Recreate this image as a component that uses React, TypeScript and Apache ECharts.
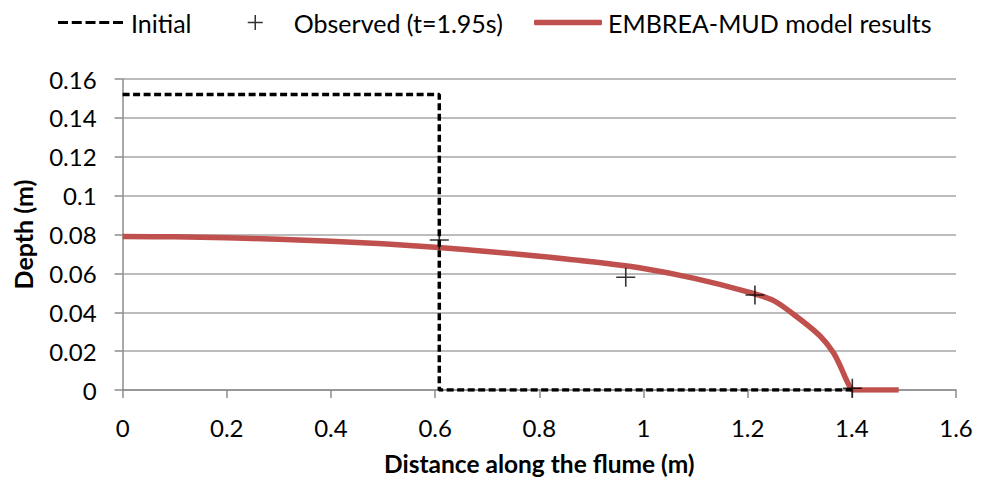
import React, { useEffect, useRef } from "react";
import * as echarts from "echarts";

const initialLine: [number, number][] = [
  [0, 0.152],
  [0.608, 0.152],
  [0.608, 0],
  [1.4, 0],
];

const observed: [number, number][] = [
  [0.608, 0.0772],
  [0.966, 0.058],
  [1.214, 0.0489],
  [1.401, 0.0009],
];

const modelX = [0, 0.1, 0.2, 0.3, 0.4, 0.5, 0.6, 0.7, 0.8, 0.9, 1.0, 1.1, 1.2, 1.25, 1.3, 1.34, 1.365, 1.38, 1.39, 1.403, 1.49];
const modelY = [0.079, 0.0788, 0.0783, 0.0775, 0.0765, 0.0752, 0.0735, 0.0713, 0.0688, 0.066, 0.0625, 0.0573, 0.0505, 0.046, 0.0365, 0.0275, 0.019, 0.011, 0.005, 0.0, 0.0];

const FONT = "Lato";
const fmt = (v: number) => String(+v.toFixed(2));

const dashIcon =
  "path://M0,0h10v3h-10z M13.75,0h10v3h-10z M27.5,0h10v3h-10z M41.25,0h10v3h-10z M55,0h10v3h-10z";
const plus = "path://M0,5L10,5M5,0L5,10";

export default function App() {
  const ref = useRef<HTMLDivElement>(null);
  useEffect(() => {
    const chart = echarts.init(ref.current!, null, { renderer: "svg" });
    const legendText = { fontFamily: FONT, fontSize: 25, color: "#000" };
    chart.setOption({
      animation: false,
      textStyle: { fontFamily: FONT },
      legend: [
        {
          data: [{ name: "Initial", icon: dashIcon, itemStyle: { color: "#000" } }],
          left: 53,
          top: 5,
          itemWidth: 65,
          itemHeight: 3,
          textStyle: { ...legendText, padding: [0, 0, 0, 3] },
        },
        {
          data: [{ name: "Observed (t=1.95s)", icon: plus }],
          left: 242,
          top: 5,
          itemWidth: 15,
          itemHeight: 15,
          itemStyle: { color: "transparent", borderColor: "#000", borderWidth: 1.5 },
          textStyle: { ...legendText, padding: [0, 0, 0, 26] },
        },
        {
          data: [{ name: "EMBREA-MUD model results", icon: "roundRect", itemStyle: { color: "#c0504d" } }],
          left: 529,
          top: 5,
          itemWidth: 68,
          itemHeight: 5.5,
          textStyle: { ...legendText, padding: [0, 0, 0, 1] },
        },
      ],
      grid: { left: 122.6, right: 26, top: 79, bottom: 90, outerBoundsMode: "none", containLabel: false },
      xAxis: {
        type: "value",
        min: 0,
        max: 1.6,
        interval: 0.2,
        name: "Distance along the flume (m)",
        nameLocation: "middle",
        nameGap: 61,
        nameTextStyle: { fontFamily: FONT, fontSize: 24.5, fontWeight: "bold", color: "#000" },
        axisLine: { show: true, lineStyle: { color: "#8c8c8c", width: 1.5 } },
        axisTick: { show: true, inside: false, length: 8, lineStyle: { color: "#8c8c8c", width: 1.5 } },
        axisLabel: { fontFamily: FONT, fontSize: 24, color: "#000", margin: 25, formatter: fmt },
        splitLine: { show: false },
      },
      yAxis: {
        type: "value",
        min: 0,
        max: 0.16,
        interval: 0.02,
        name: "Depth (m)",
        nameLocation: "middle",
        nameGap: 87,
        nameTextStyle: { fontFamily: FONT, fontSize: 25, fontWeight: "bold", color: "#000" },
        axisLine: { show: true, lineStyle: { color: "#8c8c8c", width: 1.5 } },
        axisTick: { show: true, inside: false, length: 8, lineStyle: { color: "#8c8c8c", width: 1.5 } },
        axisLabel: { fontFamily: FONT, fontSize: 24, color: "#000", margin: 26, formatter: fmt },
        splitLine: { show: true, lineStyle: { color: "#a6a6a6", width: 1.5 } },
      },
      series: [
        {
          name: "Initial",
          type: "line",
          data: initialLine,
          symbol: "none",
          lineStyle: { color: "#000", width: 3.5, type: [7, 3.5] },
          itemStyle: { color: "#000" },
          z: 3,
        },
        {
          name: "EMBREA-MUD model results",
          type: "line",
          data: modelX.map((x, i) => [x, modelY[i]]),
          symbol: "none",
          smooth: 0.3,
          lineStyle: { color: "#c0504d", width: 5.5 },
          itemStyle: { color: "#c0504d" },
          z: 2,
        },
        {
          name: "Observed (t=1.95s)",
          type: "scatter",
          data: observed,
          symbol: plus,
          symbolSize: [19, 19],
          itemStyle: { color: "transparent", borderColor: "#000", borderWidth: 1.6 },
          z: 4,
        },
      ],
    });
    return () => chart.dispose();
  }, []);
  return <div ref={ref} style={{ width: 982, height: 480, position: "absolute", left: 0, top: 0 }} />;
}
